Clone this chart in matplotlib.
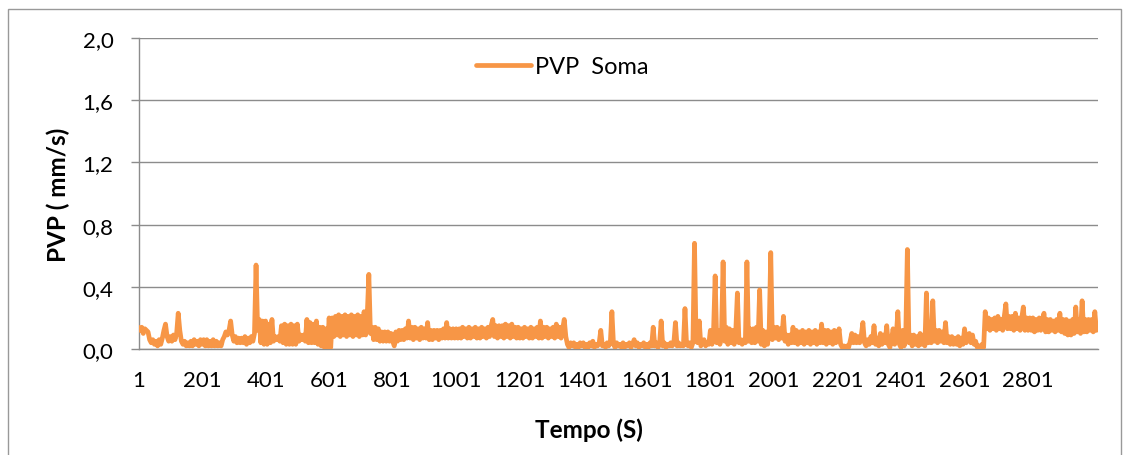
import matplotlib
matplotlib.use("Agg")
import matplotlib.pyplot as plt
import numpy as np
from matplotlib.patches import Rectangle

# PVP values (line centre), one value every 5 s,
# one list per 200 s block
seg_0001 = [0.14, 0.12, 0.14, 0.10, 0.13, 0.12, 0.11, 0.06, 0.04, 0.06,
            0.03, 0.05, 0.02, 0.06, 0.03, 0.07, 0.12, 0.16, 0.08, 0.05,
            0.08, 0.05, 0.09, 0.06, 0.10, 0.23, 0.12, 0.05, 0.03, 0.05,
            0.02, 0.04, 0.02, 0.05, 0.02, 0.06, 0.03, 0.05, 0.02, 0.06]
seg_0201 = [0.03, 0.06, 0.02, 0.06, 0.02, 0.05, 0.02, 0.06, 0.02, 0.05,
            0.02, 0.04, 0.02, 0.06, 0.08, 0.11, 0.09, 0.12, 0.18, 0.09,
            0.05, 0.08, 0.04, 0.07, 0.04, 0.07, 0.04, 0.08, 0.03, 0.07,
            0.04, 0.08, 0.05, 0.10, 0.54, 0.12, 0.19, 0.04, 0.18, 0.03]
seg_0401 = [0.18, 0.03, 0.16, 0.04, 0.19, 0.05, 0.08, 0.06, 0.08, 0.05,
            0.15, 0.04, 0.16, 0.03, 0.15, 0.03, 0.16, 0.03, 0.15, 0.03,
            0.16, 0.05, 0.09, 0.06, 0.09, 0.05, 0.19, 0.04, 0.17, 0.04,
            0.16, 0.04, 0.18, 0.03, 0.14, 0.02, 0.14, 0.01, 0.13, 0.01]
seg_0601 = [0.20, 0.01, 0.20, 0.08, 0.21, 0.09, 0.22, 0.08, 0.21, 0.09,
            0.22, 0.08, 0.21, 0.09, 0.22, 0.08, 0.21, 0.09, 0.22, 0.08,
            0.21, 0.09, 0.24, 0.09, 0.22, 0.48, 0.10, 0.14, 0.06, 0.14,
            0.06, 0.13, 0.05, 0.11, 0.05, 0.11, 0.05, 0.11, 0.05, 0.10]
seg_0801 = [0.05, 0.02, 0.11, 0.05, 0.12, 0.06, 0.12, 0.06, 0.13, 0.07,
            0.18, 0.07, 0.14, 0.06, 0.14, 0.07, 0.13, 0.06, 0.14, 0.07,
            0.13, 0.07, 0.17, 0.06, 0.12, 0.06, 0.12, 0.07, 0.12, 0.06,
            0.12, 0.07, 0.13, 0.07, 0.17, 0.07, 0.13, 0.07, 0.13, 0.07]
seg_1001 = [0.13, 0.07, 0.13, 0.07, 0.14, 0.08, 0.13, 0.07, 0.14, 0.07,
            0.13, 0.08, 0.14, 0.07, 0.13, 0.07, 0.14, 0.08, 0.13, 0.07,
            0.14, 0.08, 0.15, 0.19, 0.08, 0.15, 0.07, 0.15, 0.08, 0.15,
            0.07, 0.16, 0.08, 0.15, 0.07, 0.16, 0.08, 0.14, 0.07, 0.14]
seg_1201 = [0.07, 0.13, 0.07, 0.14, 0.08, 0.13, 0.07, 0.14, 0.07, 0.13,
            0.08, 0.14, 0.07, 0.18, 0.07, 0.14, 0.08, 0.14, 0.07, 0.13,
            0.08, 0.14, 0.07, 0.16, 0.08, 0.14, 0.07, 0.13, 0.19, 0.08,
            0.03, 0.01, 0.04, 0.02, 0.04, 0.01, 0.03, 0.01, 0.04, 0.02]
seg_1401 = [0.04, 0.01, 0.03, 0.01, 0.04, 0.02, 0.05, 0.01, 0.03, 0.02,
            0.04, 0.12, 0.02, 0.03, 0.01, 0.04, 0.02, 0.04, 0.24, 0.03,
            0.01, 0.04, 0.02, 0.03, 0.01, 0.04, 0.01, 0.03, 0.02, 0.04,
            0.01, 0.03, 0.06, 0.02, 0.04, 0.01, 0.03, 0.02, 0.04, 0.01]
seg_1601 = [0.03, 0.01, 0.04, 0.02, 0.14, 0.02, 0.04, 0.01, 0.03, 0.18,
            0.02, 0.04, 0.01, 0.03, 0.02, 0.04, 0.02, 0.04, 0.17, 0.02,
            0.04, 0.02, 0.03, 0.02, 0.26, 0.03, 0.02, 0.04, 0.01, 0.04,
            0.68, 0.05, 0.04, 0.18, 0.02, 0.04, 0.06, 0.02, 0.04, 0.03]
seg_1801 = [0.12, 0.03, 0.12, 0.47, 0.04, 0.12, 0.03, 0.10, 0.56, 0.05,
            0.14, 0.03, 0.13, 0.04, 0.12, 0.03, 0.12, 0.36, 0.04, 0.06,
            0.03, 0.06, 0.04, 0.56, 0.05, 0.13, 0.04, 0.13, 0.04, 0.14,
            0.05, 0.38, 0.03, 0.12, 0.02, 0.11, 0.03, 0.12, 0.62, 0.06]
seg_2001 = [0.14, 0.07, 0.14, 0.06, 0.13, 0.07, 0.21, 0.05, 0.09, 0.03,
            0.09, 0.04, 0.14, 0.04, 0.12, 0.03, 0.11, 0.04, 0.12, 0.03,
            0.11, 0.04, 0.12, 0.03, 0.11, 0.04, 0.12, 0.03, 0.11, 0.04,
            0.16, 0.04, 0.12, 0.03, 0.12, 0.04, 0.11, 0.03, 0.12, 0.04]
seg_2201 = [0.06, 0.13, 0.03, 0.01, 0.02, 0.01, 0.02, 0.01, 0.05, 0.10,
            0.04, 0.09, 0.04, 0.08, 0.04, 0.09, 0.17, 0.04, 0.02, 0.06,
            0.03, 0.08, 0.04, 0.15, 0.03, 0.07, 0.02, 0.10, 0.03, 0.09,
            0.04, 0.15, 0.03, 0.01, 0.06, 0.13, 0.03, 0.08, 0.24, 0.03]
seg_2401 = [0.01, 0.12, 0.02, 0.10, 0.64, 0.04, 0.09, 0.02, 0.09, 0.03,
            0.08, 0.02, 0.10, 0.03, 0.09, 0.02, 0.36, 0.04, 0.06, 0.04,
            0.31, 0.05, 0.12, 0.04, 0.12, 0.05, 0.11, 0.04, 0.17, 0.04,
            0.08, 0.03, 0.08, 0.03, 0.07, 0.03, 0.08, 0.02, 0.07, 0.03]
seg_2601 = [0.13, 0.04, 0.06, 0.10, 0.04, 0.09, 0.03, 0.05, 0.01, 0.02,
            0.01, 0.03, 0.01, 0.24, 0.13, 0.20, 0.12, 0.19, 0.13, 0.20,
            0.12, 0.21, 0.13, 0.19, 0.12, 0.21, 0.29, 0.13, 0.21, 0.13,
            0.21, 0.12, 0.23, 0.13, 0.20, 0.12, 0.20, 0.27, 0.12, 0.20]
seg_2801 = [0.12, 0.20, 0.12, 0.20, 0.11, 0.19, 0.12, 0.20, 0.12, 0.19,
            0.23, 0.11, 0.19, 0.11, 0.19, 0.12, 0.18, 0.11, 0.19, 0.12,
            0.23, 0.11, 0.19, 0.10, 0.19, 0.09, 0.18, 0.09, 0.19, 0.10,
            0.27, 0.11, 0.19, 0.10, 0.31, 0.11, 0.19, 0.11, 0.19, 0.12]
seg_3001 = [0.19, 0.11, 0.24, 0.12, 0.14]

STEP = 5
SERIES_NAME = "PVP  Soma"
X_TICKS = [1, 201, 401, 601, 801, 1001, 1201, 1401, 1601, 1801,
           2001, 2201, 2401, 2601, 2801]
Y_TICKS = [0.0, 0.4, 0.8, 1.2, 1.6, 2.0]
Y_TICK_LABELS = ["0,0", "0,4", "0,8", "1,2", "1,6", "2,0"]

ORANGE = "#F79646"
GRID = "#8C8C8C"

plt.rcParams['font.family'] = ['Lato', 'DejaVu Sans']


def plot():
    pvp = (seg_0001 + seg_0201 + seg_0401 + seg_0601 + seg_0801 + seg_1001 +
           seg_1201 + seg_1401 + seg_1601 + seg_1801 + seg_2001 + seg_2201 +
           seg_2401 + seg_2601 + seg_2801 + seg_3001)
    t = 1 + STEP * np.arange(len(pvp))

    W, H = 1133, 456
    fig = plt.figure(figsize=(W / 100, H / 100), dpi=100)
    ax = fig.add_axes([138.5 / W, 1 - 350 / H, (1098 - 138.5) / W, (350 - 39) / H])

    ax.plot(t, pvp, color=ORANGE, lw=3.4, solid_capstyle='round',
            solid_joinstyle='round', label=SERIES_NAME, zorder=3)

    ax.set_xlim(1, t[-1])
    ax.set_ylim(0, 2.0)
    ax.set_yticks(Y_TICKS)
    ax.set_yticklabels(Y_TICK_LABELS)
    ax.set_xticks(X_TICKS)
    ax.set_xticklabels([str(x) for x in X_TICKS])
    ax.yaxis.grid(True, color=GRID, lw=1.0)
    ax.set_axisbelow(True)

    for s in ["top", "right"]:
        ax.spines[s].set_visible(False)
    for s in ["left", "bottom"]:
        ax.spines[s].set_color(GRID)
        ax.spines[s].set_linewidth(1.0)

    ax.tick_params(axis='y', length=6, color=GRID, width=1.0, pad=12, labelsize=16)
    ax.tick_params(axis='x', length=0, pad=15, labelsize=16)

    fig.text(589 / W, 1 - 430 / H, "Tempo (S)", ha='center', va='center',
             fontsize=17.5, fontweight='bold')
    fig.text(58 / W, 1 - 195 / H, "PVP ( mm/s)", ha='center', va='center',
             rotation=90, fontsize=17.5, fontweight='bold')

    ax.legend(loc='center left', bbox_to_anchor=(476 / W, 1 - 68 / H),
              bbox_transform=fig.transFigure, frameon=False, borderpad=0,
              borderaxespad=0, handlelength=2.35, handletextpad=0.13,
              fontsize=17)

    # chart area border
    fig.patches.append(Rectangle((7.5 / W, -0.05), (1121 - 7.5) / W, 1.05 - 10 / H,
                                 transform=fig.transFigure, fill=False,
                                 edgecolor="#999999", lw=1.0))

    plt.savefig("out.png", dpi=100)
    plt.close()


if __name__ == "__main__":
    plot()
